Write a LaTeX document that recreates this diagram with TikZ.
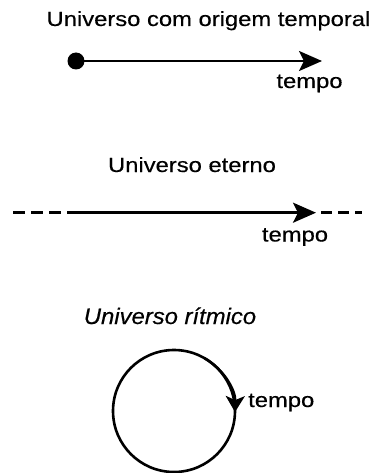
\documentclass[tikz,border=0pt]{standalone}
\usepackage{fontspec}
\usepackage{tikz}
\usetikzlibrary{arrows.meta}
\newfontfamily\rotulofont[FakeStretch=1.16,FakeBold=0.4]{Liberation Sans}
\newfontfamily\rotuloitfont[FakeStretch=1.06,FakeBold=0.4]{Liberation Sans}

\begin{document}
\begin{tikzpicture}[x=1pt,y=-1pt,
    rotulo/.style={anchor=base,inner sep=0pt,
        font=\rotulofont\fontsize{20.5}{24}\selectfont},
    rotuloit/.style={anchor=base,inner sep=0pt,
        font=\rotuloitfont\itshape\fontsize{22.5}{26}\selectfont},
    traco/.style={line width=2.6pt},
    seta/.style={traco,-{Stealth[length=23pt,width=20pt,inset=5pt]}},
    setaciclo/.style={traco,-{Stealth[length=16pt,width=19pt,inset=4pt]}},
    tracejado/.style={traco,dash pattern=on 12pt off 6pt}]
    \useasboundingbox (0,0) rectangle (374,473);

    \node[rotulo] (tituloA) at (208.5,26) {Universo com origem temporal};
    \node[circle,fill,inner sep=0pt,minimum size=17pt] (origem) at (76,61) {};
    \coordinate (fimA) at (322,61);
    \draw[seta] (origem.center) -- (fimA);
    \node[rotulo] (tempoA) at (309.5,88) {tempo};

    \node[rotulo] (tituloB) at (192,172) {Universo eterno};
    \coordinate (eternoA) at (13,212.7);
    \coordinate (eternoB) at (67,212.7);
    \coordinate (eternoC) at (316,212.7);
    \coordinate (eternoD) at (321,212.7);
    \coordinate (eternoE) at (362,212.7);
    \draw[tracejado] (eternoA) -- (eternoB);
    \draw[seta] (eternoB) -- (eternoC);
    \draw[tracejado,dash pattern=on 11pt off 6pt] (eternoD) -- (eternoE);
    \node[rotulo] (tempoB) at (295,241.5) {tempo};

    \node[rotuloit] (tituloC) at (170,324) {Universo rítmico};
    \node[circle,draw,traco,outer sep=0pt,minimum size=122pt] (ciclo) at (174,411) {};
    \draw[setaciclo] (ciclo.60) arc[start angle=-60,end angle=1,radius=61];
    \node[rotulo,anchor=base west] (tempoC) at (248,407) {tempo};
\end{tikzpicture}
\end{document}
